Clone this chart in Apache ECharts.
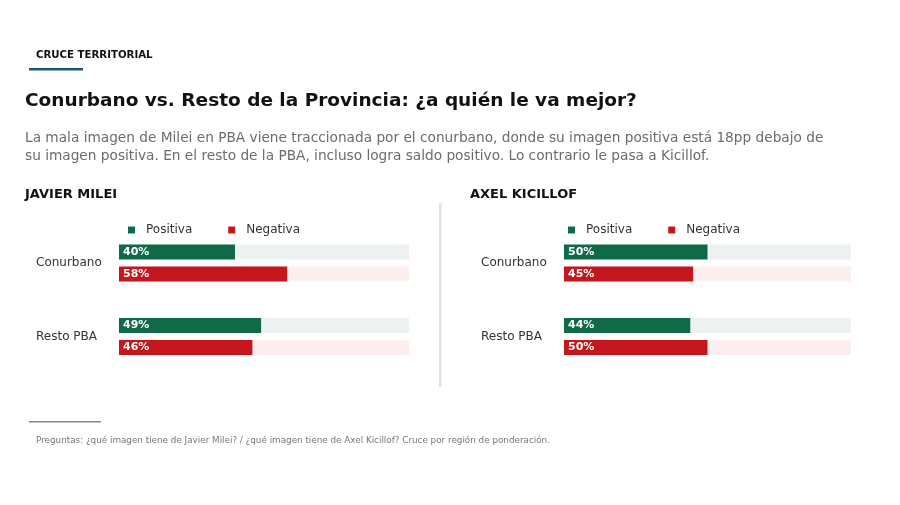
<!DOCTYPE html>
<html>
<head>
<meta charset="utf-8">
<script src="https://cdn.jsdelivr.net/npm/echarts@6/dist/echarts.min.js"></script>
<style>
  html, body { margin: 0; padding: 0; background: #fff; }
  #chart { width: 900px; height: 505px; }
</style>
</head>
<body>
<div id="chart"></div>
<script>
    // datos
    var regiones = ["Conurbano", "Resto PBA"];
    var mileiPositiva = [40, 49];
    var mileiNegativa = [58, 46];
    var kicillofPositiva = [50, 44];
    var kicillofNegativa = [45, 50];

    var FONT = "'DejaVu Sans', 'Noto Sans', sans-serif";
    var VERDE = "#0f6b47";
    var ROJO = "#c4161c";

    var chart = echarts.init(document.getElementById("chart"));

    function barSeries(name, data, color, bg, idx) {
        return {
            name: name,
            type: "bar",
            xAxisIndex: idx,
            yAxisIndex: idx,
            data: data,
            barWidth: 15,
            barGap: "47%",
            itemStyle: { color: color },
            showBackground: true,
            backgroundStyle: { color: bg },
            label: {
                show: true,
                position: "insideLeft",
                distance: 4,
                formatter: "{c}%",
                color: "#fff",
                fontFamily: FONT,
                fontWeight: "bold",
                fontSize: 11
            }
        };
    }

    function legend(left) {
        return {
            left: left,
            top: 219,
            itemWidth: 7,
            itemHeight: 7,
            itemGap: 36,
            icon: "rect",
            selectedMode: false,
            data: ["Positiva", "Negativa"],
            textStyle: {
                fontFamily: FONT,
                fontSize: 12,
                color: "#333",
                padding: [0, 0, 0, 6]
            }
        };
    }

    function yAxis(idx) {
        return {
            type: "category",
            gridIndex: idx,
            data: regiones,
            inverse: true,
            axisLine: { show: false },
            axisTick: { show: false },
            axisLabel: {
                align: "left",
                margin: 83,
                fontFamily: FONT,
                fontSize: 12,
                color: "#333"
            }
        };
    }

    function xAxis(idx) {
        return {
            type: "value",
            gridIndex: idx,
            min: 0,
            max: 100,
            show: false
        };
    }

    var option = {
        backgroundColor: "#fff",
        animation: false,
        legend: [legend(123), legend(563)],
        grid: [
            { left: 119, width: 290, top: 226.3, height: 146.8 },
            { left: 564, width: 287, top: 226.3, height: 146.8 }
        ],
        xAxis: [xAxis(0), xAxis(1)],
        yAxis: [yAxis(0), yAxis(1)],
        series: [
            barSeries("Positiva", mileiPositiva, VERDE, "#eef1f2", 0),
            barSeries("Negativa", mileiNegativa, ROJO, "#fcefee", 0),
            barSeries("Positiva", kicillofPositiva, VERDE, "#eef1f2", 1),
            barSeries("Negativa", kicillofNegativa, ROJO, "#fcefee", 1)
        ],
        graphic: [
            {
                type: "text", left: 36, top: 50,
                style: { text: "CRUCE TERRITORIAL", fontFamily: FONT, fontWeight: "bold", fontSize: 10.2, fill: "#111" }
            },
            {
                type: "rect", shape: { x: 29, y: 68, width: 54, height: 2.5 },
                style: { fill: "#1f5673" }
            },
            {
                type: "text", left: 25, top: 92,
                style: {
                    text: "Conurbano vs. Resto de la Provincia: ¿a quién le va mejor?",
                    fontFamily: FONT, fontWeight: "bold", fontSize: 18.5, fill: "#111"
                }
            },
            {
                type: "text", left: 25, top: 129,
                style: {
                    text: "La mala imagen de Milei en PBA viene traccionada por el conurbano, donde su imagen positiva está 18pp debajo de\nsu imagen positiva. En el resto de la PBA, incluso logra saldo positivo. Lo contrario le pasa a Kicillof.",
                    fontFamily: FONT, fontSize: 13.7, lineHeight: 18, fill: "#6b6b6b"
                }
            },
            {
                type: "text", left: 25, top: 188,
                style: { text: "JAVIER MILEI", fontFamily: FONT, fontWeight: "bold", fontSize: 13, fill: "#111" }
            },
            {
                type: "text", left: 470, top: 188,
                style: { text: "AXEL KICILLOF", fontFamily: FONT, fontWeight: "bold", fontSize: 13, fill: "#111" }
            },
            {
                type: "rect", shape: { x: 439, y: 203, width: 2.5, height: 184 },
                style: { fill: "#e2e2e6" }
            },
            {
                type: "rect", shape: { x: 29, y: 421, width: 72, height: 1.5 },
                style: { fill: "#888" }
            },
            {
                type: "text", left: 36, top: 436,
                style: {
                    text: "Preguntas: ¿qué imagen tiene de Javier Milei? / ¿qué imagen tiene de Axel Kicillof? Cruce por región de ponderación.",
                    fontFamily: FONT, fontSize: 8.8, fill: "#777"
                }
            }
        ]
    };

    chart.setOption(option);
</script>
</body>
</html>
